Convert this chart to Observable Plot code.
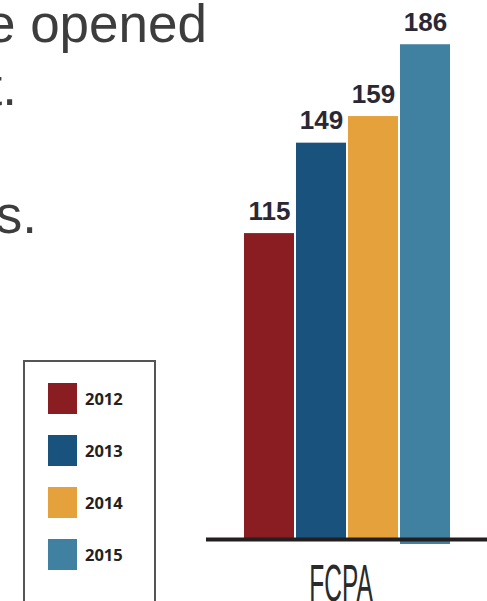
<!DOCTYPE html>
<html><head><meta charset="utf-8">
<script src="https://cdn.jsdelivr.net/npm/d3@7"></script>
<script src="https://cdn.jsdelivr.net/npm/@observablehq/plot@0.6"></script>
<style>
html,body{margin:0;padding:0;background:#fff;}
#wrap{position:relative;width:487px;height:601px;overflow:hidden;background:#fff;}
#chart{position:absolute;left:0;top:0;}
.para{position:absolute;font-family:"Liberation Sans",Arial,sans-serif;font-size:53px;line-height:53px;color:#3d3d3d;white-space:pre;}
#legendBox{position:absolute;left:23px;top:360px;width:133px;height:260px;border:2px solid #555;box-sizing:border-box;background:#fff;}
#legendInner{position:absolute;left:23px;top:21px;}
#legendBox .lg-swatch{padding-bottom:21px !important;}
#legendBox .lg-swatch svg{margin-right:8px !important;}
#legendBox .lg-swatches, #legendBox .lg-swatches-columns{margin-left:0 !important;font-family:"Open Sans",sans-serif !important;font-size:16.5px !important;font-weight:700 !important;color:#222 !important;}
</style>
</head><body>
<div id="wrap">
  <div id="chart"></div>
  <div class="para" style="right:280px;top:-3px;">e opened</div>
  <div class="para" style="right:470px;top:60px;">t.</div>
  <div class="para" style="right:450px;top:188px;">s.</div>
  <div id="legendBox"><div id="legendInner"></div></div>
</div>
<script>
const categories = ["FCPA"];
const years = ["2012", "2013", "2014", "2015"];
const values = [115, 149, 159, 186];
const colors = ["#891d21", "#18527d", "#e4a13c", "#4080a1"];

const data = years.map((y, i) => ({category: categories[0], year: y, value: values[i]}));

const chart = Plot.plot({
  width: 487,
  height: 601,
  marginLeft: 206,
  marginRight: 0,
  marginTop: 7,
  marginBottom: 62,
  style: {background: "transparent"},
  fx: {domain: categories, padding: 0},
  x: {domain: years, paddingInner: 0.04, paddingOuter: 0.72, axis: null},
  y: {domain: [0, 200], axis: null},
  color: {domain: years, range: colors},
  marks: [
    Plot.barY(data.filter(d => d.year !== "2015"), {fx: "category", x: "year", y: "value", fill: "year"}),
    Plot.barY(data.filter(d => d.year === "2015"), {fx: "category", x: "year", y: "value", fill: "year", insetBottom: -5}),
    Plot.text(data, {
      fx: "category", x: "year", y: "value", text: d => String(d.value),
      lineAnchor: "bottom", dy: -14, fontSize: 26, fontWeight: "bold",
      fontFamily: "Liberation Sans, Arial, sans-serif", fill: "#2b2833"
    }),
    Plot.ruleY([0], {stroke: "#231f20", strokeWidth: 4}),
    Plot.axisFx({
      anchor: "bottom", tickSize: 0, tickPadding: 25, dx: -6, label: null, fontSize: 52,
      fontFamily: "Liberation Sans, Arial, sans-serif", fill: "#2a2a2a"
    })
  ]
});
document.getElementById("chart").appendChild(chart);

// condense the category label horizontally
d3.select(chart).selectAll('[aria-label^="fx-axis"] text').each(function () {
  const t = d3.select(this);
  const tr = t.attr("transform");
  if (tr) {
    t.attr("transform", tr + " scale(0.47,1)");
  } else {
    const x = +t.attr("x") || 0;
    t.attr("x", null).attr("transform", `translate(${x},0) scale(0.47,1)`);
  }
});

const legend = Plot.legend({
  color: {domain: years, range: colors},
  legend: "swatches",
  columns: 1,
  swatchWidth: 29,
  swatchHeight: 31,
  className: "lg"
});
document.getElementById("legendInner").appendChild(legend);
</script>
</body></html>
